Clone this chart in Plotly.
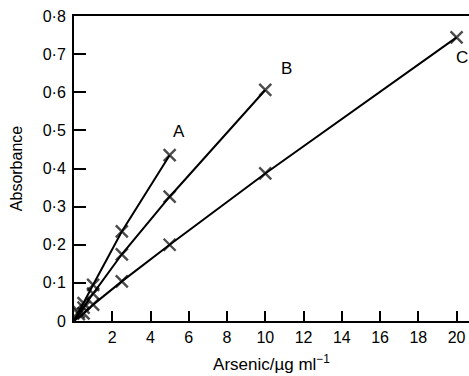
import plotly.graph_objects as go

# Calibration data: arsenic concentration (µg/ml) vs absorbance
conc_a = [0, 0.25, 0.5, 1, 2.5, 5]
abs_a = [0, 0.024, 0.047, 0.095, 0.235, 0.435]

conc_b = [0, 0.25, 0.5, 1, 2.5, 5, 10]
abs_b = [0, 0.018, 0.035, 0.072, 0.175, 0.326, 0.606]

conc_c = [0, 0.5, 1, 2.5, 5, 10, 20]
abs_c = [0, 0.02, 0.043, 0.104, 0.2, 0.387, 0.744]

curve_labels = ["A", "B", "C"]
label_pos = [(5.5, 0.497), (11.1, 0.662), (20.3, 0.69)]

x_ticks = [2, 4, 6, 8, 10, 12, 14, 16, 18, 20]
y_ticks = [0, 0.1, 0.2, 0.3, 0.4, 0.5, 0.6, 0.7, 0.8]
y_ticktext = ["0", "0·1", "0·2", "0·3", "0·4", "0·5", "0·6", "0·7", "0·8"]

FONT = "Liberation Sans, Arial, sans-serif"

fig = go.Figure()
for xs, ys in [(conc_a, abs_a), (conc_b, abs_b), (conc_c, abs_c)]:
    sizes = [0 if x == 0 else 12 for x in xs]
    fig.add_trace(go.Scatter(
        x=xs, y=ys, mode="lines+markers",
        line=dict(color="black", width=2),
        marker=dict(symbol="x-thin-open", size=sizes, color="black",
                    line=dict(color="black", width=2.4)),
        showlegend=False, cliponaxis=False,
    ))

for name, (lx, ly) in zip(curve_labels, label_pos):
    fig.add_annotation(x=lx, y=ly, text=name, showarrow=False,
                       font=dict(family=FONT, size=17, color="black"))

fig.update_layout(
    width=469, height=376,
    margin=dict(l=74, r=0, t=16, b=55),
    paper_bgcolor="white", plot_bgcolor="white",
    font=dict(family=FONT, size=16, color="black"),
)
fig.update_xaxes(
    range=[0, 20.65], tickvals=x_ticks,
    ticks="inside", ticklen=10, tickwidth=2, tickcolor="black",
    showline=True, linewidth=2, linecolor="black", mirror=True,
    showgrid=False, zeroline=False,
    tickfont=dict(size=16), ticklabelstandoff=1,
    title=dict(text="Arsenic/µg ml<sup>−1</sup>", font=dict(size=17), standoff=13),
    automargin=False,
)
fig.update_yaxes(
    range=[0, 0.8], tickvals=y_ticks, ticktext=y_ticktext,
    ticks="inside", ticklen=12, tickwidth=2, tickcolor="black",
    showline=True, linewidth=2, linecolor="black",
    showgrid=False, zeroline=False,
    tickfont=dict(size=16), ticklabelstandoff=3,
    title=dict(text="Absorbance", font=dict(size=16), standoff=16),
    automargin=False,
)

fig.write_html("out.html")
